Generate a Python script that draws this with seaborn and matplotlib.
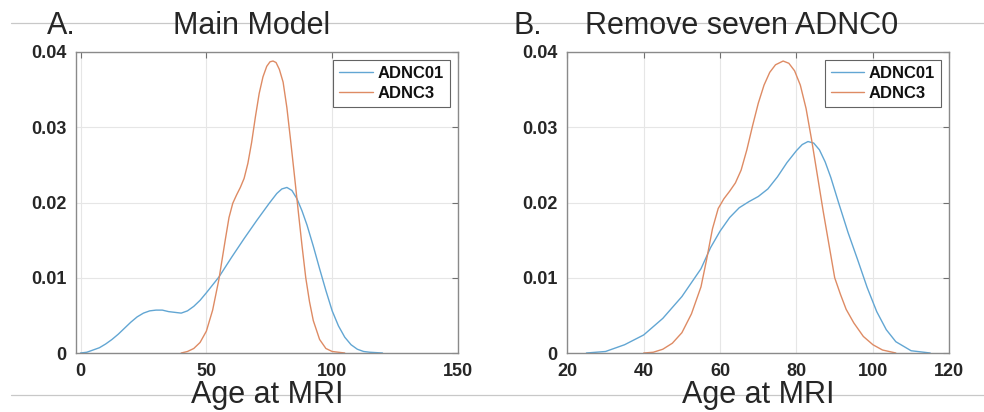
import numpy as np
import pandas as pd
import matplotlib
matplotlib.use("Agg")
import matplotlib.pyplot as plt
from matplotlib.lines import Line2D
import seaborn as sns

# density values, panel A (main model)
a_x01 = [0, 2.5, 5, 7.5, 10, 12.5, 15, 17.5, 20, 22.5, 25, 27.5, 30, 32.5, 35, 37.5,
         40, 42.5, 45, 47.5, 50, 55, 60, 65, 70, 75, 78, 80, 82, 84, 86, 88, 90,
         92.5, 95, 97.5, 100, 102.5, 105, 107.5, 110, 112.5, 115, 120]
a_y01 = [0.0, 0.0001, 0.0004, 0.0007, 0.0012, 0.0018, 0.0025, 0.0033, 0.0041, 0.0048,
         0.0053, 0.0056, 0.0057, 0.0057, 0.0055, 0.0054, 0.0053, 0.0056, 0.0062,
         0.0070, 0.0080, 0.0101, 0.0127, 0.0152, 0.0176, 0.0199, 0.0212, 0.0218,
         0.0220, 0.0216, 0.0205, 0.0189, 0.0170, 0.0142, 0.0112, 0.0083, 0.0056,
         0.0036, 0.0021, 0.0011, 0.0005, 0.0002, 0.0001, 0.0]
a_x3 = [40, 42.5, 45, 47.5, 50, 52.5, 55, 57.5, 59, 60.5, 62, 63.5, 65, 66.5, 68,
        69.5, 71, 72.5, 74, 75.3, 76.5, 77.7, 79, 80.5, 82, 83.5, 85, 86.5, 88, 89.5,
        91, 92.5, 95, 97.5, 100, 105]
a_y3 = [0.0, 0.0002, 0.0006, 0.0014, 0.0029, 0.0057, 0.0098, 0.0150, 0.0180, 0.0199,
        0.0210, 0.0220, 0.0232, 0.0252, 0.0280, 0.0314, 0.0345, 0.0367, 0.0381,
        0.0387, 0.0388, 0.0386, 0.0377, 0.0360, 0.0326, 0.0282, 0.0236, 0.0189,
        0.0143, 0.0100, 0.0068, 0.0043, 0.0018, 0.0006, 0.0002, 0.0]

# panel B (seven ADNC0 removed)
b_x01 = [25, 30, 35, 40, 45, 50, 55, 57.5, 60, 62.5, 65, 67.5, 70, 72.5, 75, 77.5,
         80, 81.5, 83, 84.5, 86, 87.5, 89, 91, 93.5, 96, 98.5, 101, 103.5, 106, 110, 115]
b_y01 = [0.0, 0.0002, 0.0011, 0.0024, 0.0046, 0.0075, 0.0112, 0.0140, 0.0162, 0.0180,
         0.0193, 0.0201, 0.0208, 0.0218, 0.0234, 0.0253, 0.0269, 0.0277, 0.0281,
         0.0279, 0.0270, 0.0254, 0.0233, 0.0200, 0.0160, 0.0124, 0.0087, 0.0055,
         0.0031, 0.0015, 0.0003, 0.0]
b_x3 = [40, 42.5, 45, 47.5, 50, 52.5, 55, 56.5, 58, 59.5, 61, 62.5, 64, 65.5, 67,
        68.5, 70, 71.5, 73, 74.5, 76.5, 78, 79.5, 81, 82.5, 84, 85.5, 87, 88.5, 90,
        91.5, 93, 95, 97.5, 100, 102.5, 106]
b_y3 = [0.0, 0.0001, 0.0005, 0.0013, 0.0027, 0.0052, 0.0088, 0.0125, 0.0165, 0.0192,
        0.0205, 0.0215, 0.0226, 0.0243, 0.0270, 0.0302, 0.0332, 0.0356, 0.0373,
        0.0383, 0.0388, 0.0385, 0.0375, 0.0356, 0.0325, 0.0282, 0.0235, 0.0188,
        0.0144, 0.0100, 0.0078, 0.0058, 0.0040, 0.0022, 0.0011, 0.0004, 0.0]

groups = ["ADNC01", "ADNC3"]
colors = {"ADNC01": "#62a6d3", "ADNC3": "#de8b64"}
titles = [("A.", "Main Model"), ("B.", "Remove seven ADNC0")]
x_ticks = [[0, 50, 100, 150], [20, 40, 60, 80, 100, 120]]
x_lims = [(-1.8, 150), (20, 120)]
y_ticks = [0, 0.01, 0.02, 0.03, 0.04]


def to_frame(x01, y01, x3, y3):
    d1 = pd.DataFrame({"age": x01, "density": y01, "group": "ADNC01"})
    d3 = pd.DataFrame({"age": x3, "density": y3, "group": "ADNC3"})
    return pd.concat([d1, d3], ignore_index=True)


panels = [to_frame(a_x01, a_y01, a_x3, a_y3), to_frame(b_x01, b_y01, b_x3, b_y3)]

sns.set_style("white")
plt.rcParams["font.family"] = ["Liberation Sans", "DejaVu Sans"]

fig = plt.figure(figsize=(9.84, 4.12), dpi=100)

# light separator lines of the slide
fig.add_artist(Line2D([11 / 984, 1], [1 - 23 / 412] * 2, color="#c8c8c8", lw=0.9, zorder=0))
fig.add_artist(Line2D([11 / 984, 1], [1 - 395 / 412] * 2, color="#c8c8c8", lw=0.9, zorder=0))

lefts = [76 / 984, 567.3 / 984]
title_x = [(47, 173), (513, 585)]

for i, df in enumerate(panels):
    ax = fig.add_axes([lefts[i], 59 / 412, 382 / 984, 301 / 412])
    sns.lineplot(data=df, x="age", y="density", hue="group", hue_order=groups,
                 palette=colors, estimator=None, sort=True, lw=1.0, ax=ax)
    ax.set_xlim(*x_lims[i])
    ax.set_ylim(0, 0.04)
    ax.set_xticks(x_ticks[i])
    ax.set_yticks(y_ticks)
    ax.set_yticklabels(["0", "0.01", "0.02", "0.03", "0.04"])
    ax.grid(True, color="#e6e6e6", lw=0.8)
    ax.set_axisbelow(True)
    for s in ax.spines.values():
        s.set_color("#8a8a8a")
        s.set_linewidth(1.0)
    ax.tick_params(direction="in", length=4, width=0.8, color="#707070",
                   top=True, right=True, labelsize=13, pad=7)
    for lab in ax.get_xticklabels() + ax.get_yticklabels():
        lab.set_fontweight("bold")
        lab.set_color("#262626")
    ax.set_ylabel("")
    ax.set_xlabel("Age at MRI", fontsize=22)
    ax.xaxis.label.set_va("baseline")
    ax.xaxis.set_label_coords(0.5, -50 / 301)
    leg = ax.legend(loc="upper right", frameon=True, fancybox=False,
                    prop={"weight": "bold", "size": 12}, handlelength=2.0,
                    handletextpad=0.3, borderaxespad=0.5, labelspacing=0.3,
                    borderpad=0.35)
    leg.get_frame().set_edgecolor("#3c3c3c")
    leg.get_frame().set_linewidth(0.8)
    for t in leg.get_texts():
        t.set_color("#111111")

    tx = title_x[i]
    fig.text(tx[0] / 984, 1 - 34 / 412, titles[i][0], fontsize=22, va="baseline")
    fig.text(tx[1] / 984, 1 - 34 / 412, titles[i][1], fontsize=22, va="baseline")

fig.savefig("out.png", dpi=100)
